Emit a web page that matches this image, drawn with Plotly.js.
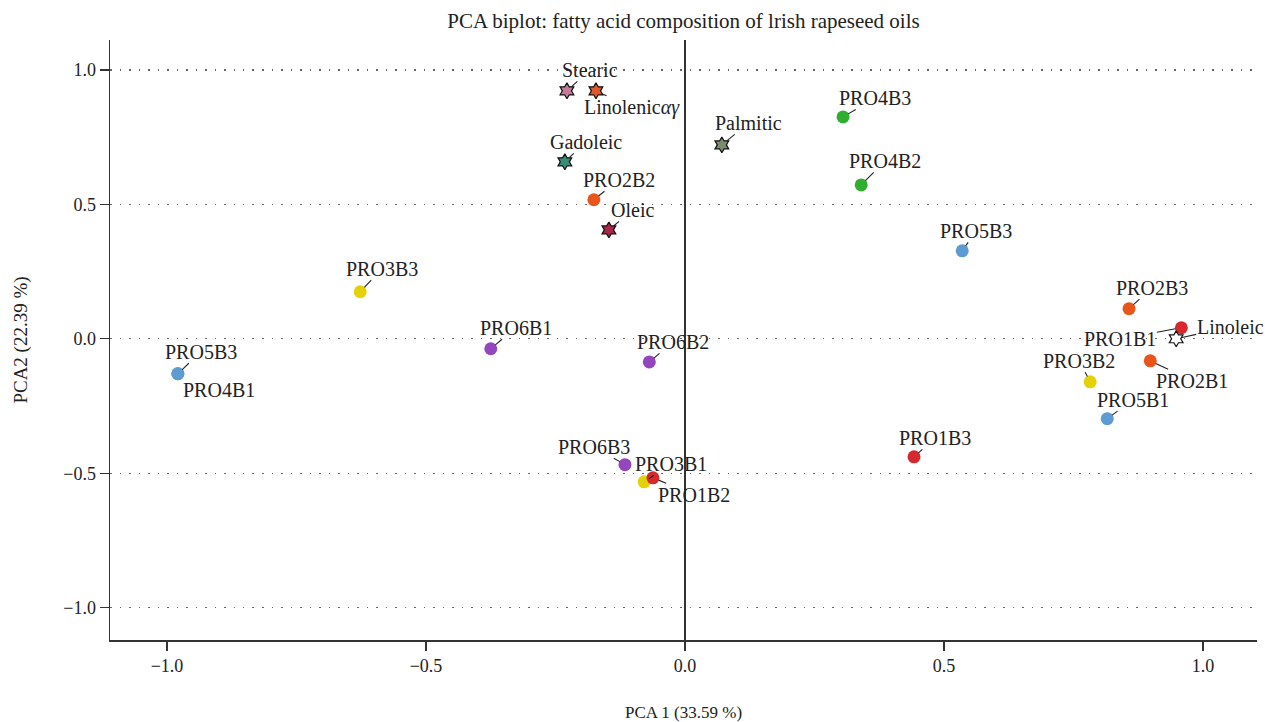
<!DOCTYPE html>
<html>
<head>
<meta charset="utf-8">
<script src="https://cdn.plot.ly/plotly-3.0.1.min.js"></script>
<style>
  html, body { margin: 0; padding: 0; background: #fff; }
  #chart { width: 1265px; height: 722px; }
</style>
</head>
<body>
<div id="chart"></div>
<script>
// Sample scores (oil samples) on the first two principal components
const sampleNames = ["PRO4B3", "PRO4B2", "PRO5B3", "PRO2B3", "PRO1B1", "PRO2B1", "PRO3B2", "PRO5B1",
                     "PRO1B3", "PRO6B3", "PRO3B1", "PRO1B2", "PRO6B2", "PRO6B1", "PRO3B3",
                     "PRO4B1", "PRO5B3", "PRO2B2"];
const sampleX = [0.305, 0.340, 0.535, 0.857, 0.958, 0.898, 0.782, 0.815,
                 0.442, -0.116, -0.079, -0.062, -0.069, -0.375, -0.627,
                 -0.979, -0.979, -0.176];
const sampleY = [0.825, 0.572, 0.327, 0.112, 0.041, -0.082, -0.160, -0.297,
                 -0.439, -0.468, -0.532, -0.517, -0.086, -0.037, 0.175,
                 -0.130, -0.130, 0.517];
const sampleProducer = ["PRO4", "PRO4", "PRO5", "PRO2", "PRO1", "PRO2", "PRO3", "PRO5",
                        "PRO1", "PRO6", "PRO3", "PRO1", "PRO6", "PRO6", "PRO3",
                        "PRO4", "PRO5", "PRO2"];

// Fatty acid loadings
const acidNames = ["Stearic", "Linolenic<i>αγ</i>", "Gadoleic", "Oleic", "Palmitic", "Linoleic"];
const acidX = [-0.228, -0.172, -0.232, -0.147, 0.071, 0.948];
const acidY = [0.922, 0.922, 0.658, 0.405, 0.721, 0.000];

// Axis ticks
const tickValues = [-1.0, -0.5, 0.0, 0.5, 1.0];
const tickLabels = ["\u22121.0", "\u22120.5", "0.0", "0.5", "1.0"];

// Styling
const producerColors = {
  PRO1: "#d7282e", PRO2: "#e8561c", PRO3: "#e3d20a",
  PRO4: "#2fae2f", PRO5: "#5f9bd3", PRO6: "#9446bf"
};
const acidColors = ["#c47b9b", "#e0592a", "#3a8b76", "#a8264a", "#7b8b6d", "#ffffff"];

// Label offsets (pixels from the marker to the label centre)
const sampleLabelOffsets = [[32, -19], [24, -24], [14, -20], [23, -21], [-61, 11], [42, 20], [-11, -21], [26, -19],
                            [21, -19], [-31, -18], [27, -18], [41, 17], [24, -20], [25, -21], [22, -23],
                            [41, 16], [23, -22], [25, -20]];
const acidLabelOffsets = [[23, -21], [36, 17], [21, -20], [24, -20], [27, -22], [54, -12]];

const FONT = "'Liberation Serif', 'DejaVu Serif', serif";
const INK = "#222222";

const traces = [
  {
    type: "scatter", mode: "markers",
    x: sampleX, y: sampleY, text: sampleNames,
    marker: { size: 13, color: sampleProducer.map(p => producerColors[p]), line: { width: 0 } },
    hoverinfo: "text", showlegend: false
  },
  {
    type: "scatter", mode: "markers",
    x: acidX, y: acidY, text: acidNames,
    marker: { size: 12, symbol: "hexagram", color: acidColors, line: { width: 1.2, color: "#111" } },
    hoverinfo: "text", showlegend: false
  }
];

function makeLabel(x, y, text, off) {
  return {
    x: x, y: y, xref: "x", yref: "y", text: text,
    showarrow: true, arrowhead: 0, arrowwidth: 1.1, arrowcolor: INK,
    ax: off[0], ay: off[1], standoff: 6, borderpad: 0,
    font: { family: FONT, size: 20, color: INK }
  };
}

const annotations = [];
sampleNames.forEach((n, i) => annotations.push(makeLabel(sampleX[i], sampleY[i], n, sampleLabelOffsets[i])));
acidNames.forEach((n, i) => annotations.push(makeLabel(acidX[i], acidY[i], n, acidLabelOffsets[i])));

const layout = {
  width: 1265, height: 722,
  margin: { l: 110, r: 8, t: 40, b: 82 },
  paper_bgcolor: "#fff", plot_bgcolor: "#fff",
  font: { family: FONT, size: 18, color: INK },
  title: {
    text: "PCA biplot: fatty acid composition of lrish rapeseed oils",
    font: { family: FONT, size: 21, color: INK },
    x: 0.5, xref: "paper", xanchor: "center", y: 0.972, yref: "container", yanchor: "middle"
  },
  xaxis: {
    range: [-1.11, 1.104],
    tickvals: tickValues, ticktext: tickLabels,
    ticks: "outside", ticklen: 9, tickwidth: 1.3, tickcolor: "#333",
    showline: true, linecolor: "#333", linewidth: 1.5,
    showgrid: false,
    zeroline: true, zerolinecolor: "#333", zerolinewidth: 1.3,
    tickfont: { family: FONT, size: 18, color: INK },
    title: { text: "PCA 1 (33.59 %)", font: { family: FONT, size: 17, color: INK }, standoff: 40 }
  },
  yaxis: {
    range: [-1.12, 1.111],
    tickvals: tickValues, ticktext: tickLabels,
    ticks: "outside", ticklen: 9, tickwidth: 1.3, tickcolor: "#333",
    showline: true, linecolor: "#333", linewidth: 1.5,
    showgrid: true, gridcolor: "#666", gridwidth: 1.4, griddash: "1.5px,8px",
    zeroline: false,
    tickfont: { family: FONT, size: 18, color: INK },
    title: { text: "PCA2 (22.39 %)", font: { family: FONT, size: 19, color: INK }, standoff: 30 }
  },
  annotations: annotations
};

Plotly.newPlot("chart", traces, layout, { displayModeBar: false, staticPlot: true });
</script>
</body>
</html>
